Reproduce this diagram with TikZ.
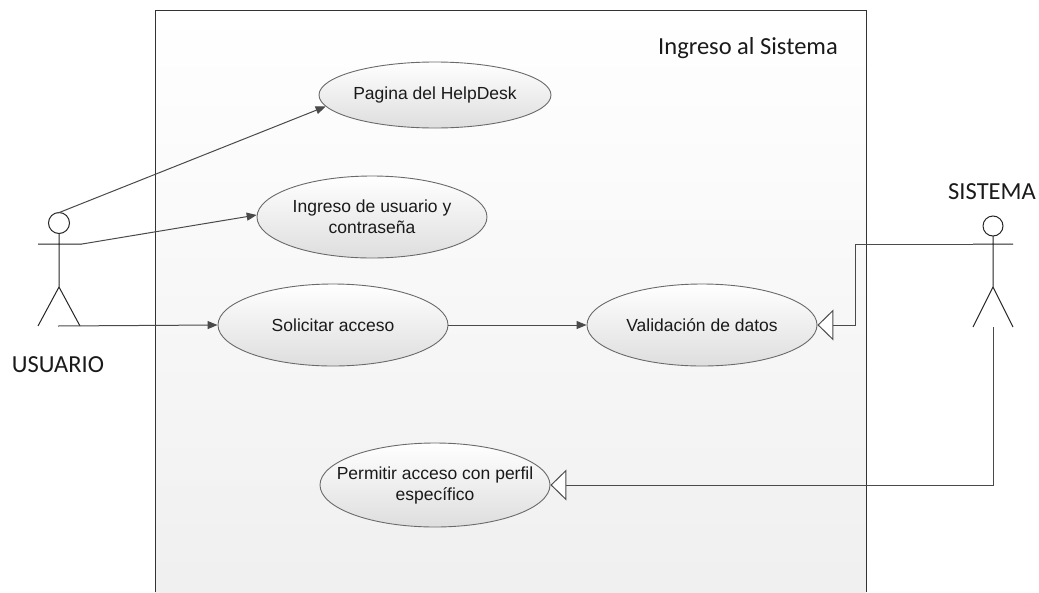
\documentclass[tikz,border=0pt]{standalone}
\usepackage{fontspec}
\setmainfont{Liberation Sans}
\newfontfamily\calibri{Carlito}
\usetikzlibrary{shapes.geometric,arrows.meta}
\definecolor{lineg}{HTML}{4A4A4A}
\definecolor{edgeg}{HTML}{6A6A6A}
\definecolor{txt}{HTML}{1A1A1A}
\tikzset{
  usecase/.style={ellipse, draw=edgeg, line width=0.9pt, top color=white, bottom color=black!13,
    minimum width=230pt, minimum height=82pt, inner xsep=-25pt, inner ysep=0pt, align=center,
    font=\fontsize{17.5}{21}\selectfont, text=txt},
  assoc/.style={draw=lineg, line width=1pt, -{Triangle[length=10pt,width=8pt]}},
  gen/.style={draw=lineg, line width=1pt, -{Triangle[open, fill=white, length=16pt, width=31pt]}},
  actor/.style={draw=black!85, line width=1pt},
  bigtxt/.style={font=\calibri\fontsize{24.5}{28}\selectfont, text=txt, inner sep=0pt},
}
\begin{document}
\begin{tikzpicture}[x=1pt,y=-1pt]
\useasboundingbox (0,0) rectangle (1039,592);
\fill[white] (0,0) rectangle (1039,592);
% system boundary
\shade[top color=white, bottom color=black!6] (155,10) rectangle (866,592);
\draw[black!80, line width=1pt] (155,592) -- (155,10) -- (866,10) -- (866,592);
\node[bigtxt, anchor=base] (title) at (748,54) {Ingreso al Sistema};

% actor USUARIO
\draw[actor] (59,223) circle (10.5);
\draw[actor] (59,233.5) -- (59,287) (38,244) -- (82,244) (38,326) -- (59,287) -- (80,326);
\coordinate (uhead) at (58,213);
\coordinate (uarm) at (82,244);
\coordinate (ufoot) at (58,326);
\node[bigtxt] (usuario) at (58,365) {USUARIO};

% actor SISTEMA
\draw[actor] (993,226) circle (10);
\draw[actor] (993,236) -- (993,287) (973,244) -- (1013,244) (973,327) -- (993,287) -- (1013,327);
\coordinate (sarm) at (973,244);
\coordinate (sfoot) at (993,327);
\node[bigtxt] (sistema) at (992,192) {SISTEMA};

% use cases
\node[usecase, minimum height=66pt, minimum width=232pt] (help) at (435,95) {Pagina del HelpDesk};
\node[usecase] (ingreso) at (372,217) {Ingreso de usuario y\\contraseña};
\node[usecase] (solic) at (333,325) {Solicitar acceso};
\node[usecase] (valid) at (702,325) {Validación de datos};
\node[usecase, minimum height=84pt] (perm) at (435,485) {Permitir acceso con perfil\\específico};

% connectors
\draw[assoc] (uhead) -- (help.186);
\draw[assoc] (uarm) -- (ingreso.179);
\draw[assoc] (ufoot) -- (solic.west);
\draw[assoc] (solic.east) -- (valid.west);
\draw[gen] (sarm) -| ([xshift=38pt]valid.east) -- (valid.east);
\draw[gen] (sfoot) |- (perm.east);
\end{tikzpicture}
\end{document}
